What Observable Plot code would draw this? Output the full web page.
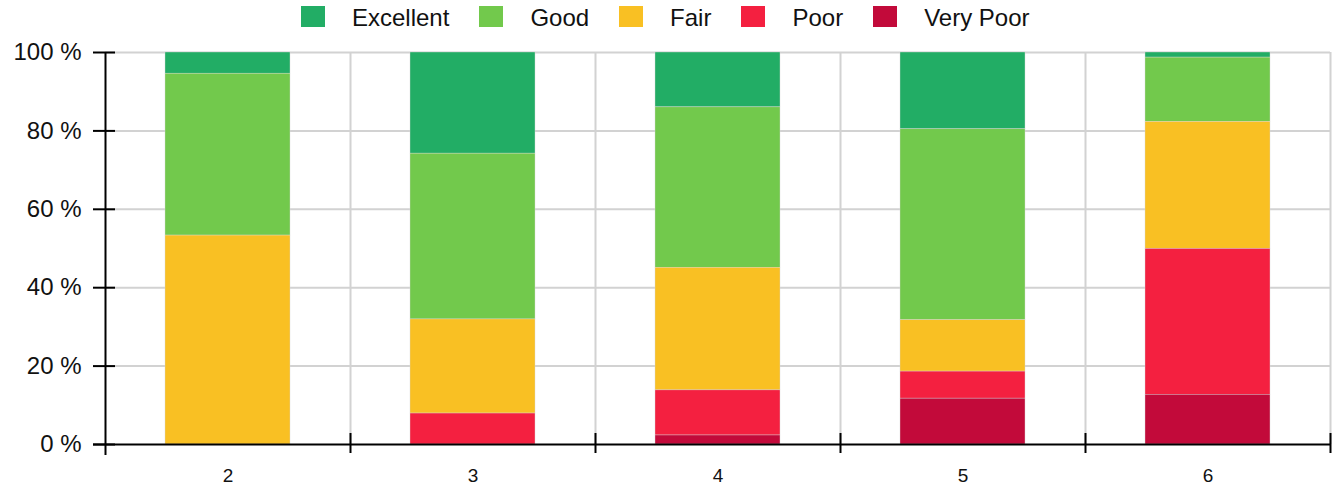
<!DOCTYPE html>
<html>
<head>
<meta charset="utf-8">
<script src="https://cdn.jsdelivr.net/npm/d3@7"></script>
<script src="https://cdn.jsdelivr.net/npm/@observablehq/plot@0.6"></script>
<style>
  html, body { margin: 0; padding: 0; background: #fff; }
  body { width: 1338px; height: 489px; overflow: hidden; font-family: "Liberation Sans", Arial, sans-serif; }
  #legend { height: 28px; display: flex; align-items: flex-start; padding-left: 301px; box-sizing: border-box; }
  #legend .item { display: flex; align-items: flex-start; margin-right: 30px; }
  #legend .sw { width: 24px; height: 21px; margin-top: 6px; margin-right: 27px; }
  #legend .lbl { font-size: 24px; line-height: 24px; margin-top: 6px; color: #111; }
  #chart svg { display: block; overflow: visible; }
</style>
</head>
<body>
<div id="legend"></div>
<div id="chart"></div>
<script>
const categories = ["2", "3", "4", "5", "6"];
const ratings = ["Excellent", "Good", "Fair", "Poor", "Very Poor"];
const colors = ["#22ad65", "#72c94c", "#f9c023", "#f42040", "#c20a3a"];
const excellent = [5.4, 25.8, 14.0, 19.6, 1.3];
const good = [41.3, 42.3, 40.9, 48.7, 16.4];
const fair = [53.3, 24.0, 31.3, 13.1, 32.4];
const poor = [0, 7.9, 11.5, 6.9, 37.2];
const veryPoor = [0, 0, 2.3, 11.7, 12.7];
const yTicks = [0, 20, 40, 60, 80, 100];

const series = [excellent, good, fair, poor, veryPoor];
const data = [];
ratings.forEach((r, j) => categories.forEach((c, i) => data.push({cat: c, rating: r, value: series[j][i]})));

// legend
const legend = document.getElementById("legend");
ratings.forEach((r, j) => {
  const it = document.createElement("div"); it.className = "item";
  const sw = document.createElement("div"); sw.className = "sw"; sw.style.background = colors[j];
  const lb = document.createElement("div"); lb.className = "lbl"; lb.textContent = r;
  it.appendChild(sw); it.appendChild(lb); legend.appendChild(it);
});

const W = 1338, ML = 105, MR = 8;
const step = (W - ML - MR) / categories.length;
const grid = "#d2d2d2";

const chart = Plot.plot({
  width: W,
  height: 461,
  marginLeft: ML,
  marginRight: MR,
  marginTop: 24,
  marginBottom: 45,
  style: {fontFamily: "'Liberation Sans', Arial, sans-serif", background: "transparent", color: "#111"},
  x: {type: "band", domain: categories, paddingInner: 0.49, paddingOuter: 0.245, axis: null},
  y: {domain: [0, 100], axis: null},
  color: {domain: ratings, range: colors},
  marks: [
    Plot.ruleY(yTicks.filter(d => d > 0), {stroke: grid, strokeWidth: 2}),
    Plot.ruleX(categories, {dx: step / 2, stroke: grid, strokeWidth: 2}),
    Plot.barY(data, {x: "cat", y: "value", fill: "rating", order: ["Very Poor", "Poor", "Fair", "Good", "Excellent"], stroke: "#d8d8d8", strokeWidth: 0.4}),
    Plot.axisY({ticks: yTicks, tickFormat: d => d + " %", tickSize: 22, dx: 10, tickPadding: 12, fontSize: 24, stroke: "#000", strokeWidth: 2, fill: "#111", label: null}),
    Plot.axisX({tickSize: 0, tickPadding: 24, fontSize: 19, fill: "#111", label: null}),
    Plot.ruleY([0], {stroke: "#000", strokeWidth: 2, insetLeft: -12}),
    Plot.ruleX([categories[0]], {dx: -step / 2, stroke: "#000", strokeWidth: 2, insetBottom: -11}),
    Plot.ruleX(categories, {dx: step / 2, y1: 0, y2: 0, insetTop: -11, insetBottom: -9, stroke: "#000", strokeWidth: 2})
  ]
});
document.getElementById("chart").appendChild(chart);
</script>
</body>
</html>
